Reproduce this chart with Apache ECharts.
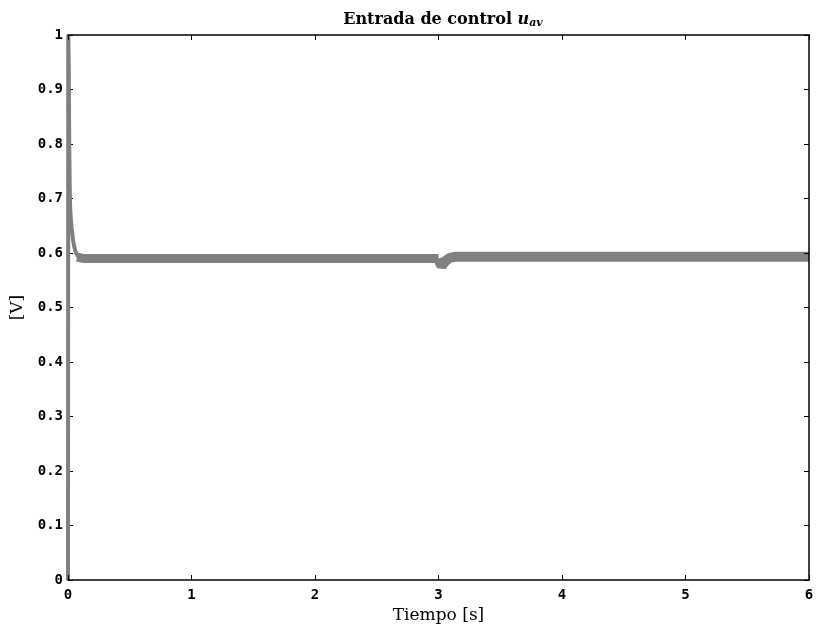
<!DOCTYPE html>
<html>
<head>
<meta charset="utf-8">
<script src="https://cdn.jsdelivr.net/npm/echarts@6/dist/echarts.min.js"></script>
<style>
  html, body { margin: 0; padding: 0; background: #fff; }
  #chart { width: 817px; height: 629px; }
</style>
</head>
<body>
<div id="chart"></div>
<script>
// transient at start-up (t in s, u in V)
var tStart = [0, 0.002, 0.006, 0.010, 0.014, 0.018, 0.024, 0.030, 0.040, 0.050, 0.060, 0.075, 0.090];
var uStart = [0, 1.0, 0.95, 0.80, 0.72, 0.68, 0.66, 0.645, 0.625, 0.612, 0.603, 0.596, 0.592];

// steady state before the disturbance
var tMid = [0.075, 0.09, 0.12, 0.3, 0.6, 1.0, 1.4, 1.8, 2.2, 2.6, 2.9, 3.0];
var uMid = [0.593, 0.591, 0.590, 0.590, 0.590, 0.590, 0.590, 0.590, 0.590, 0.590, 0.590, 0.590];

// disturbance at t = 3 s and after
var tEnd = [3.0, 3.01, 3.025, 3.04, 3.06, 3.09, 3.13, 3.2, 3.5, 4.0, 4.5, 5.0, 5.5, 6.0];
var uEnd = [0.590, 0.583, 0.576, 0.578, 0.586, 0.591, 0.593, 0.593, 0.593, 0.593, 0.593, 0.593, 0.593, 0.593];

var xTicks = [0, 1, 2, 3, 4, 5, 6];
var yTicks = [0, 0.1, 0.2, 0.3, 0.4, 0.5, 0.6, 0.7, 0.8, 0.9, 1];

function pairs(t, u) {
  return t.map(function (v, i) { return [v, u[i]]; });
}

var chart = echarts.init(document.getElementById('chart'));

var tickFont = {
  fontFamily: 'DejaVu Sans Mono',
  fontWeight: 'bold',
  fontSize: 14,
  color: '#000'
};
var axisLine = { show: true, onZero: false, lineStyle: { color: '#000', width: 1.5 } };
var axisTick = { show: true, inside: true, length: 5, lineStyle: { color: '#000', width: 1 } };

var option = {
  animation: false,
  backgroundColor: '#fff',
  title: {
    text: '{b|Entrada de control }{i|u}{s|av}',
    left: 438,
    textAlign: 'center',
    top: 5,
    textStyle: {
      rich: {
        b: { fontFamily: 'DejaVu Serif', fontWeight: 'bold', fontSize: 16, color: '#000' },
        i: { fontFamily: 'DejaVu Serif', fontStyle: 'italic', fontSize: 16, color: '#000' },
        s: { fontFamily: 'DejaVu Serif', fontStyle: 'italic', fontSize: 11, color: '#000', padding: [8, 0, 0, 0] }
      }
    }
  },
  grid: { left: 68, right: 8, top: 35, bottom: 46 },
  xAxis: [{
    type: 'value',
    min: 0, max: 6, interval: 1,
    name: 'Tiempo [s]',
    nameLocation: 'middle',
    nameGap: 26,
    nameTextStyle: { fontFamily: 'DejaVu Serif', fontStyle: 'normal', fontSize: 17, color: '#000' },
    axisLine: axisLine,
    axisTick: axisTick,
    axisLabel: Object.assign({ margin: 8, formatter: function (v) { return xTicks.indexOf(v) >= 0 ? String(v) : ''; } }, tickFont),
    splitLine: { show: false },
    z: 5
  }, {
    type: 'value', position: 'top',
    min: 0, max: 6, interval: 1,
    axisLine: axisLine, axisTick: axisTick,
    axisLabel: { show: false }, splitLine: { show: false },
    z: 5
  }],
  yAxis: [{
    type: 'value',
    min: 0, max: 1, interval: 0.1,
    name: '[V]',
    nameLocation: 'middle',
    nameGap: 42,
    nameRotate: 90,
    nameTextStyle: { fontFamily: 'DejaVu Serif', fontStyle: 'normal', fontWeight: 'normal', fontSize: 17, color: '#000' },
    axisLine: axisLine,
    axisTick: axisTick,
    axisLabel: Object.assign({ margin: 5, formatter: function (v) {
      var r = Math.round(v * 10) / 10;
      return yTicks.indexOf(r) >= 0 ? String(r) : '';
    } }, tickFont),
    splitLine: { show: false }
  }, {
    type: 'value', position: 'right',
    min: 0, max: 1, interval: 0.1,
    axisLine: axisLine, axisTick: axisTick,
    axisLabel: { show: false }, splitLine: { show: false },
    z: 5
  }],
  series: [{
    type: 'line',
    data: pairs(tStart, uStart),
    showSymbol: false,
    lineStyle: { color: '#808080', width: 4 },
    z: 3
  }, {
    type: 'line',
    data: pairs(tMid, uMid),
    showSymbol: false,
    lineStyle: { color: '#808080', width: 9 },
    z: 3
  }, {
    type: 'line',
    data: pairs(tEnd, uEnd),
    showSymbol: false,
    lineStyle: { color: '#808080', width: 10 },
    z: 3
  }]
};

chart.setOption(option);
</script>
</body>
</html>
